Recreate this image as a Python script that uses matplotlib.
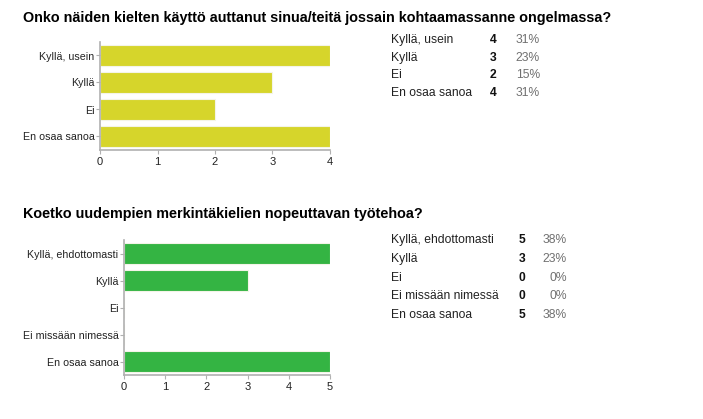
import matplotlib
matplotlib.use("Agg")
import matplotlib.pyplot as plt

plt.rcParams["font.family"] = ["Liberation Sans", "DejaVu Sans"]

W, H = 703, 419

title1 = "Onko näiden kielten käyttö auttanut sinua/teitä jossain kohtaamassanne ongelmassa?"
cats1 = ["Kyllä, usein", "Kyllä", "Ei", "En osaa sanoa"]
vals1 = [4, 3, 2, 4]
pcts1 = ["31%", "23%", "15%", "31%"]

title2 = "Koetko uudempien merkintäkielien nopeuttavan työtehoa?"
cats2 = ["Kyllä, ehdottomasti", "Kyllä", "Ei", "Ei missään nimessä", "En osaa sanoa"]
vals2 = [5, 3, 0, 0, 5]
pcts2 = ["38%", "23%", "0%", "0%", "38%"]

YELLOW = "#d6d52b"
GREEN = "#34b443"
AXIS = "#b0b0b0"


def px_axes(fig, left, top, right, bottom):
    return fig.add_axes([left / W, 1 - bottom / H, (right - left) / W, (bottom - top) / H])


def bar_panel(fig, box, cats, vals, color, xmax):
    ax = px_axes(fig, *box)
    ax.barh(range(len(cats)), vals, height=0.8, color=color, edgecolor="#f4f4e8", linewidth=0.8)
    ax.set_ylim(len(cats) - 0.5, -0.5)
    ax.set_xlim(0, xmax)
    ax.set_yticks(range(len(cats)))
    ax.set_yticklabels(cats, fontsize=7.7, color="#222222")
    ax.set_xticks(range(xmax + 1))
    ax.tick_params(axis="x", labelsize=8, colors=AXIS, labelcolor="#222222", length=3, pad=2)
    ax.tick_params(axis="y", colors=AXIS, labelcolor="#222222", length=3, pad=1)
    for side in ("top", "right"):
        ax.spines[side].set_visible(False)
    for side in ("left", "bottom"):
        ax.spines[side].set_color(AXIS)
        ax.spines[side].set_linewidth(1.2)
    return ax


def table(fig, x_label, x_count, x_pct, y0, step, cats, vals, pcts):
    for i, (c, v, p) in enumerate(zip(cats, vals, pcts)):
        y = 1 - (y0 + i * step) / H
        fig.text(x_label / W, y, c, fontsize=8.7, color="#222222", va="center")
        fig.text(x_count / W, y, str(v), fontsize=8.7, fontweight="bold", color="#111111", va="center", ha="center")
        fig.text(x_pct / W, y, p, fontsize=8.7, color="#707070", va="center", ha="right")


fig = plt.figure(figsize=(W / 100, H / 100), dpi=100)

fig.text(23 / W, 1 - 18 / H, title1, fontsize=10.4, fontweight="bold", va="center")
bar_panel(fig, (100, 42, 330, 150), cats1, vals1, YELLOW, 4)
table(fig, 391, 493, 540, 40, 17.7, cats1, vals1, pcts1)

fig.text(23 / W, 1 - 214 / H, title2, fontsize=10.4, fontweight="bold", va="center")
bar_panel(fig, (124, 240, 330, 375), cats2, vals2, GREEN, 5)
table(fig, 391, 522, 567, 240, 18.75, cats2, vals2, pcts2)

fig.savefig("out.png", dpi=100, facecolor="white")
plt.close(fig)
